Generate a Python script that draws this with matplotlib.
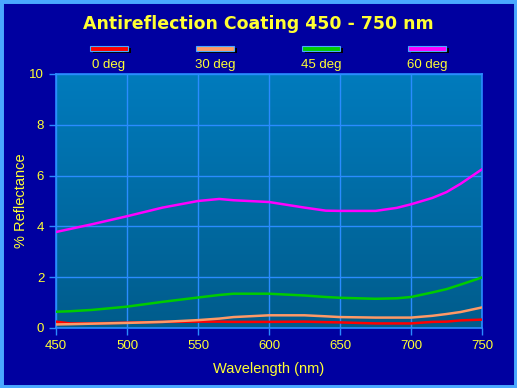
import numpy as np
import matplotlib.pyplot as plt
from matplotlib.patches import Rectangle

wavelength = [450, 460, 475, 500, 525, 550, 565, 575, 600, 625, 640, 650, 675, 690, 700, 715, 725, 735, 750]
r0 = [0.25, 0.18, 0.18, 0.21, 0.24, 0.25, 0.25, 0.24, 0.24, 0.25, 0.23, 0.22, 0.18, 0.18, 0.18, 0.24, 0.25, 0.30, 0.33]
r30 = [0.14, 0.15, 0.17, 0.20, 0.24, 0.31, 0.37, 0.43, 0.50, 0.50, 0.46, 0.43, 0.41, 0.41, 0.41, 0.48, 0.55, 0.63, 0.81]
r45 = [0.64, 0.66, 0.71, 0.84, 1.03, 1.20, 1.30, 1.35, 1.35, 1.28, 1.22, 1.19, 1.15, 1.17, 1.22, 1.40, 1.53, 1.71, 1.99]
r60 = [3.78, 3.90, 4.08, 4.40, 4.74, 5.00, 5.08, 5.03, 4.96, 4.74, 4.62, 4.61, 4.61, 4.73, 4.87, 5.12, 5.35, 5.68, 6.25]

labels = ['0 deg', '30 deg', '45 deg', '60 deg']
colors = ['#ff0000', '#ff9966', '#00cc00', '#ff00ff']
series = [r0, r30, r45, r60]

navy = '#0000a0'
edge = '#4aa8ff'
grid = '#2a8cff'
yellow = '#ffff33'

fig = plt.figure(figsize=(5.17, 3.88), dpi=100, facecolor=navy)
fig.patches.append(Rectangle((0, 0), 1, 1, transform=fig.transFigure, fill=False,
                             edgecolor=edge, linewidth=5, zorder=10))

ax = fig.add_axes([56 / 517, 1 - 328 / 388, 426 / 517, 254 / 388])
ax.set_facecolor(navy)

# vertical gradient in the plot area
grad = np.linspace(0, 1, 256).reshape(-1, 1)
cmap = plt.matplotlib.colors.LinearSegmentedColormap.from_list('bg', ['#005c8c', '#007bbd'])
ax.imshow(grad, aspect='auto', cmap=cmap, origin='lower', extent=[450, 750, 0, 10], zorder=0)

for vals, c in zip(series, colors):
    ax.plot(wavelength, vals, color=c, lw=1.8, zorder=3)

ax.set_xlim(450, 750)
ax.set_ylim(0, 10)
ax.set_xticks(range(450, 751, 50))
ax.set_yticks(range(0, 11, 2))
ax.grid(True, color=grid, lw=1, zorder=1)
ax.set_axisbelow(False)
for s in ax.spines.values():
    s.set_color(grid)
    s.set_linewidth(1.2)
ax.tick_params(colors=grid, labelcolor=yellow, labelsize=9.5, length=5, width=1)
for t in ax.get_xticklabels() + ax.get_yticklabels():
    t.set_fontfamily('Liberation Sans')

ax.set_xlabel('Wavelength (nm)', color=yellow, fontsize=10.5, family='Liberation Sans', labelpad=7)
ax.set_ylabel('% Reflectance', color=yellow, fontsize=10.5, family='Liberation Sans', labelpad=1)

fig.text(0.5, 1 - 24 / 388, 'Antireflection Coating 450 - 750 nm', color=yellow,
         fontsize=12.5, fontweight='bold', ha='center', va='center', family='DejaVu Sans')

# legend across the top
centers = [109, 215, 321, 427]
for cx, lab, c in zip(centers, labels, colors):
    fig.patches.append(Rectangle(((cx - 18 + 1.5) / 517, 1 - 52.5 / 388), 38 / 517, 5 / 388,
                                 transform=fig.transFigure, facecolor='black', edgecolor='none'))
    fig.patches.append(Rectangle(((cx - 19) / 517, 1 - 51 / 388), 38 / 517, 5 / 388,
                                 transform=fig.transFigure, facecolor=c, edgecolor=edge, lw=0.8))
    fig.text(cx / 517, 1 - 65 / 388, lab, color=yellow, fontsize=9.5, ha='center', va='center',
             family='Liberation Sans')

fig.savefig('out.png', dpi=100, facecolor=navy)
